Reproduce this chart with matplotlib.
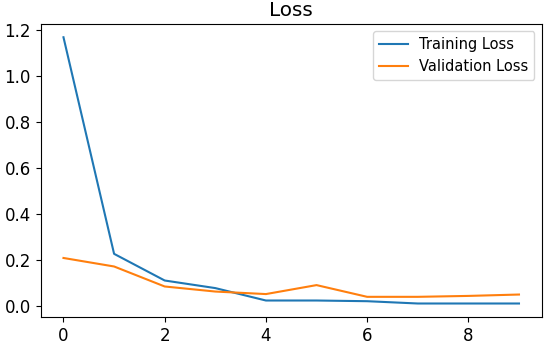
import matplotlib
matplotlib.use("Agg")
import matplotlib.pyplot as plt

epochs = list(range(10))
training_loss = [1.168, 0.226, 0.11, 0.077, 0.023, 0.023, 0.02, 0.01, 0.01, 0.01]
validation_loss = [0.208, 0.171, 0.084, 0.062, 0.051, 0.09, 0.039, 0.039, 0.043, 0.049]

plt.rcParams['font.size'] = 12
fig = plt.figure(figsize=(5.5, 3.47), dpi=100)
ax = fig.add_axes([0.074, 0.087, 0.911, 0.844])
ax.plot(epochs, training_loss, label='Training Loss')
ax.plot(epochs, validation_loss, label='Validation Loss')
ax.set_title('Loss')
ax.legend(fontsize=10.5)
fig.savefig('out.png', dpi=100)
